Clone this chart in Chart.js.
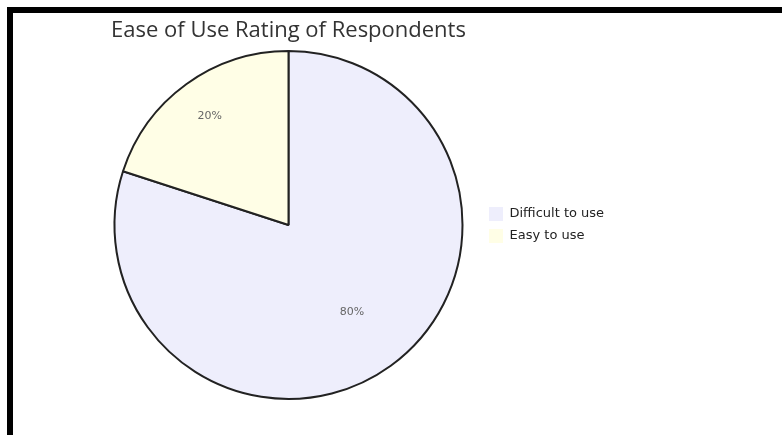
<!DOCTYPE html>
<html>
<head>
<meta charset="utf-8">
<script src="https://cdn.jsdelivr.net/npm/chart.js@4/dist/chart.umd.min.js"></script>
<style>
  body { margin: 0; background: #fff; }
  #frame {
    position: absolute; left: 7px; top: 7px;
    width: 769px; height: 422px;
    border-top: 6px solid #000; border-left: 6px solid #000;
  }
  canvas { display: block; }
</style>
</head>
<body>
<div id="frame"><canvas id="myChart" width="769" height="422"></canvas></div>
<script>
const titleText = "Ease of Use Rating of Respondents";
const categorias = ["Difficult to use", "Easy to use"];
const porcentajes = [80, 20];
const colores = ["#eeeefc", "#fffee6"];

const fuenteLeyenda = { family: "DejaVu Sans", size: 13 };

// legend width from its longest text, so the pie keeps its place
const medidor = document.createElement("canvas").getContext("2d");
medidor.font = fuenteLeyenda.size + 'px "' + fuenteLeyenda.family + '"';
const textoMax = Math.max(...categorias.map(t => medidor.measureText(t).width));
const anchoLeyenda = 8 + 14 + fuenteLeyenda.size / 2 + textoMax + 8;
const bordeDerecho = 470;

// title centred over the pie, not over the whole canvas
const tituloPlugin = {
    id: "tituloPie",
    afterDraw(chart) {
        const ctx = chart.ctx;
        const area = chart.chartArea;
        ctx.save();
        ctx.font = '22px "Open Sans"';
        ctx.fillStyle = "#333";
        ctx.textAlign = "center";
        ctx.textBaseline = "middle";
        ctx.fillText(titleText, (area.left + area.right) / 2, 18);
        ctx.restore();
    }
};

// percent labels inside the slices
const etiquetasPlugin = {
    id: "etiquetas",
    afterDatasetsDraw(chart, args, opts) {
        const ctx = chart.ctx;
        const arcos = chart.getDatasetMeta(0).data;
        ctx.save();
        ctx.font = '11px "DejaVu Sans"';
        ctx.fillStyle = "#666";
        ctx.textAlign = "center";
        ctx.textBaseline = "middle";
        arcos.forEach((arc, i) => {
            const p = arc.getProps(["x", "y", "startAngle", "endAngle", "outerRadius"], true);
            const mid = (p.startAngle + p.endAngle) / 2;
            const r = p.outerRadius * opts.radios[i];
            ctx.fillText(porcentajes[i] + "%", p.x + Math.cos(mid) * r, p.y + Math.sin(mid) * r);
        });
        ctx.restore();
    }
};

new Chart("myChart", {
    type: "pie",
    data: {
        labels: categorias,
        datasets: [{
            data: porcentajes,
            backgroundColor: colores,
            borderColor: "#222",
            borderWidth: 2
        }]
    },
    options: {
        responsive: false,
        animation: false,
        layout: { padding: { top: 37, bottom: 35, left: 83, right: 769 - bordeDerecho - anchoLeyenda } },
        plugins: {
            title: { display: false },
            tooltip: { enabled: false },
            etiquetas: { radios: [0.62, 0.77] },
            legend: {
                position: "right",
                labels: {
                    boxWidth: 14,
                    boxHeight: 14,
                    padding: 8,
                    color: "#222",
                    font: fuenteLeyenda,
                    generateLabels: (chart) => categorias.map((t, i) => ({
                        text: t,
                        fillStyle: colores[i],
                        strokeStyle: colores[i],
                        lineWidth: 0,
                        hidden: false,
                        index: i,
                        fontColor: "#222"
                    }))
                }
            }
        }
    },
    plugins: [tituloPlugin, etiquetasPlugin]
});
</script>
</body>
</html>
